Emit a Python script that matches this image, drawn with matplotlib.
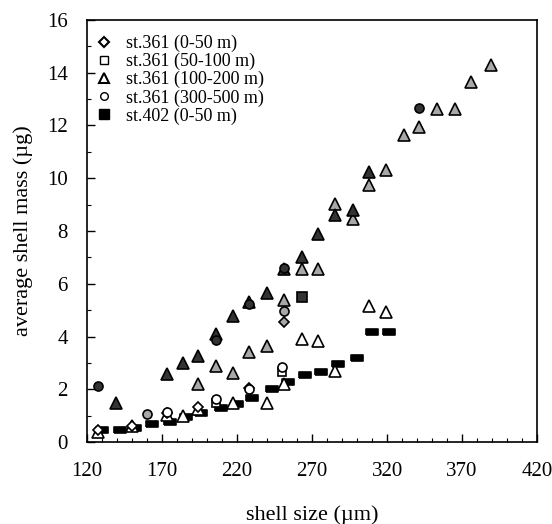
import numpy as np
import matplotlib
matplotlib.use("Agg")
import matplotlib.pyplot as plt
from matplotlib.lines import Line2D

plt.rcParams['font.family'] = ['Liberation Serif', 'DejaVu Serif']

WHITE = 'white'
GRAY = '#a8a8a8'
DARK = '#333333'

# st.361 (0-50 m), diamonds
dia_white_x = [127, 150, 173, 194, 228]
dia_white_y = [0.45, 0.62, 1.12, 1.32, 2.05]
dia_gray_x = [251]
dia_gray_y = [4.56]

# st.361 (50-100 m), squares
sq_white_x = [206, 250]
sq_white_y = [1.5, 2.65]
sq_dark_x = [263]
sq_dark_y = [5.52]

# st.361 (100-200 m), triangles
tri_white_x = [127, 150, 173, 184, 194, 217, 240, 251, 263, 274, 285, 308, 319]
tri_white_y = [0.4, 0.6, 1.05, 1.0, 1.25, 1.5, 1.5, 2.2, 3.93, 3.85, 2.7, 5.15, 4.95]
tri_gray_x = [194, 206, 217, 228, 240, 251, 263, 274, 285, 297, 308, 319, 331, 341,
              353, 365, 376, 389]
tri_gray_y = [2.2, 2.9, 2.62, 3.42, 3.65, 5.38, 6.58, 6.58, 9.02, 8.47, 9.73, 10.33,
              11.63, 11.94, 12.64, 12.64, 13.65, 14.28]
tri_dark_x = [139, 173, 184, 194, 206, 217, 228, 240, 251, 263, 274, 285, 297, 308]
tri_dark_y = [1.5, 2.6, 3.02, 3.25, 4.1, 4.77, 5.3, 5.66, 6.55, 7.02, 7.9, 8.6, 8.81, 10.24]

# st.361 (300-500 m), circles
circ_white_x = [173, 206, 228, 250]
circ_white_y = [1.15, 1.62, 2.0, 2.85]
circ_gray_x = [160, 251]
circ_gray_y = [1.07, 4.97]
circ_dark_x = [127, 206, 228, 251, 341]
circ_dark_y = [2.15, 3.88, 5.22, 6.62, 12.68]

# st.402 (0-50 m), black bars
st402_x = [130, 142, 152, 163, 175, 186, 196, 209, 220, 230, 243, 254, 265, 276,
           287, 300, 310, 321]
st402_y = [0.45, 0.45, 0.55, 0.68, 0.77, 0.94, 1.1, 1.28, 1.46, 1.69, 2.0, 2.28,
           2.55, 2.66, 2.97, 3.2, 4.18, 4.18]

legend_labels = ['st.361 (0-50 m)', 'st.361 (50-100 m)', 'st.361 (100-200 m)',
                 'st.361 (300-500 m)', 'st.402 (0-50 m)']

x_major = list(range(120, 421, 50))
x_minor = list(range(120, 421, 10))
y_major = list(range(0, 17, 2))
y_minor = list(range(1, 16, 2))

rect = [(-1, -0.6), (1, -0.6), (1, 0.6), (-1, 0.6), (-1, -0.6)]

fig = plt.figure(figsize=(5.52, 5.24), dpi=100)
ax = fig.add_axes([0.158, 0.156, 0.815, 0.806])


def pts(x, y, marker, ms, face):
    ax.plot(x, y, linestyle='none', marker=marker, markersize=ms,
            markerfacecolor=face, markeredgecolor='black', markeredgewidth=1.2)


pts(st402_x, st402_y, rect, 8, 'black')
pts(tri_white_x, tri_white_y, '^', 9, WHITE)
pts(dia_white_x, dia_white_y, 'D', 5.5, WHITE)
pts(sq_white_x, sq_white_y, 's', 6, WHITE)
pts(circ_white_x, circ_white_y, 'o', 6.5, WHITE)
pts(tri_gray_x, tri_gray_y, '^', 9, GRAY)
pts(dia_gray_x, dia_gray_y, 'D', 5.5, GRAY)
pts(circ_gray_x, circ_gray_y, 'o', 6.5, GRAY)
pts(tri_dark_x, tri_dark_y, '^', 9, DARK)
pts(sq_dark_x, sq_dark_y, 's', 6.5, DARK)
pts(circ_dark_x, circ_dark_y, 'o', 6.5, DARK)

ax.set_xlim(120, 420)
ax.set_ylim(0, 16)
ax.set_xticks(x_major)
ax.set_xticks(x_minor, minor=True)
ax.set_yticks(y_major)
ax.set_yticks(y_minor, minor=True)
ax.tick_params(which='both', direction='in', labelsize=15)
ax.tick_params(which='major', length=6, width=1)
ax.tick_params(which='minor', length=3, width=0.8)
ax.tick_params(axis='x', pad=14)
ax.tick_params(axis='y', pad=14)
for s in ax.spines.values():
    s.set_linewidth(1.2)

ax.set_xlabel('shell size (µm)', fontsize=16, labelpad=18)
ax.set_ylabel('average shell mass (µg)', fontsize=16, labelpad=10)

handles = [
    Line2D([], [], ls='none', marker='D', ms=5, mfc='white', mec='black', mew=1.5),
    Line2D([], [], ls='none', marker='s', ms=6, mfc='white', mec='black', mew=1),
    Line2D([], [], ls='none', marker='^', ms=7, mfc='white', mec='black', mew=1.5),
    Line2D([], [], ls='none', marker='o', ms=5.5, mfc='white', mec='black', mew=1),
    Line2D([], [], ls='none', marker='s', ms=6.5, mfc='black', mec='black', mew=1),
]
ax.legend(handles, legend_labels, loc='upper left', frameon=False, fontsize=13,
          handlelength=1.2, handletextpad=0.6, labelspacing=0.05,
          borderaxespad=0.3, bbox_to_anchor=(-0.015, 0.995))

fig.savefig('out.png', dpi=100)
